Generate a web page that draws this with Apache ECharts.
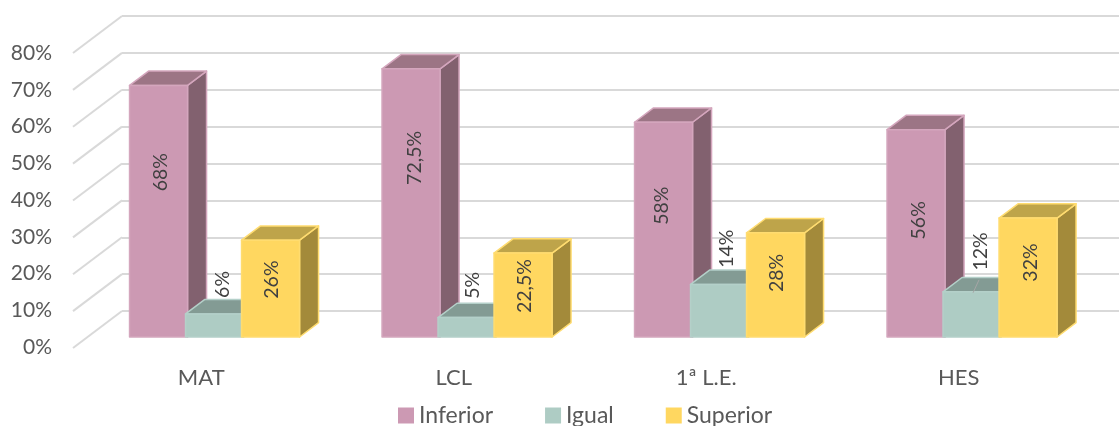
<!DOCTYPE html>
<html>
<head>
<meta charset="utf-8">
<style>html,body{margin:0;padding:0;background:#fff}#c{width:1119px;height:426px}</style>
<script src="https://cdn.jsdelivr.net/npm/echarts@6/dist/echarts.min.js"></script>
</head>
<body>
<div id="c"></div>
<script>
const categories = ['MAT', 'LCL', '1ª L.E.', 'HES'];
const inferior = [68, 72.5, 58, 56];
const igual = [6, 5, 14, 12];
const superior = [26, 22.5, 28, 32];
const yTicks = [0, 10, 20, 30, 40, 50, 60, 70, 80];

const FONT = 'Lato, "Noto Sans", sans-serif';
const labelNudge = {
  Inferior: { dx: [2, 4, -2, 3], lift: [39, 45, 24, 13] },
  Igual: { dx: [8, 6, 7, 9], lift: [41, 42, 62, 63] },
  Superior: { dx: [1.5, 1.5, 1, 3], lift: [9, 9, 12, 15] }
};
const looks = [
  { name: 'Inferior', values: inferior, slot: 0, front: '#CC99B3', top: '#9C7585', side: '#82616F', edge: '#D4A6BD' },
  { name: 'Igual', values: igual, slot: 1, front: '#AECCC4', top: '#839B94', side: '#6F8580', edge: '#B4D0C9' },
  { name: 'Superior', values: superior, slot: 2, front: '#FFD760', top: '#BEA44A', side: '#A38A3A', edge: '#FFDC70' }
];
const DX = 19, DY = 14.3, BAR_W = 58, STEP = 56, GROUP_LEFT = -85.4;

function barRenderer(look) {
  return function (params, api) {
    const i = api.value(0), v = api.value(1);
    const c0 = api.coord([i, 0]), c1 = api.coord([i, v]);
    const x0 = c0[0] + GROUP_LEFT + look.slot * STEP, x1 = x0 + BAR_W;
    const yT = c1[1], yB = c0[1] + 1;
    const stroke = { stroke: look.edge, lineWidth: 1.5, lineJoin: 'round' };
    const poly = (points, fill) => ({ type: 'polygon', shape: { points }, style: Object.assign({ fill }, stroke) });
    const nudge = labelNudge[look.name];
    const lx = (x0 + x1) / 2 + nudge.dx[i], ly = (yT + yB) / 2 - nudge.lift[i];
    const children = [
      poly([[x1, yT], [x1 + DX, yT - DY], [x1 + DX, yB - DY], [x1, yB]], look.side),
      poly([[x0, yT], [x0 + DX, yT - DY], [x1 + DX, yT - DY], [x1, yT]], look.top),
      poly([[x0, yT], [x1, yT], [x1, yB], [x0, yB]], look.front)
    ];
    if (look.name === 'Igual' && categories[i] === 'HES') {
      children.push({ type: 'line', shape: { x1: lx - 2, y1: yT - 12, x2: lx - 8, y2: yT + 1 }, style: { stroke: '#A6A6A6', lineWidth: 1 } });
    }
    children.push({
      type: 'text', x: lx, y: ly, rotation: Math.PI / 2,
      style: { text: String(v).replace('.', ',') + '%', fill: '#404040', font: '19.5px ' + FONT, align: 'center', verticalAlign: 'middle' }
    });
    return { type: 'group', children };
  };
}

const option = {
  animation: false,
  backgroundColor: '#fff',
  grid: [
    { left: 122, top: 16, width: 1010, height: 295 },
    { left: 75, top: 53, width: 1010, height: 294 },
    { left: 88.7, top: 41.2, width: 1010, height: 294.8 }
  ],
  xAxis: [
    { gridIndex: 0, type: 'category', data: categories, show: false },
    {
      gridIndex: 1, type: 'category', data: categories,
      axisLine: { show: false }, axisTick: { show: false },
      axisLabel: { color: '#595959', fontFamily: FONT, fontSize: 22, margin: 20 }
    },
    { gridIndex: 2, type: 'category', data: categories, show: false }
  ],
  yAxis: [
    {
      gridIndex: 0, type: 'value', min: 0, max: 80, interval: 10,
      axisLine: { show: false }, axisTick: { show: false }, axisLabel: { show: false },
      splitLine: { show: true, lineStyle: { color: '#D9D9D9', width: 2 } }
    },
    {
      gridIndex: 1, type: 'value', min: 0, max: 80, interval: 10,
      axisLine: { show: false }, axisTick: { show: false }, splitLine: { show: false },
      axisLabel: { color: '#595959', fontFamily: FONT, fontSize: 21, margin: 23, formatter: '{value}%', showMinLabel: true, showMaxLabel: true }
    },
    { gridIndex: 2, type: 'value', min: 0, max: 80, interval: 10, show: false }
  ],
  legend: {
    left: 393, top: 399, itemWidth: 16, itemHeight: 16, itemGap: 52, icon: 'rect',
    textStyle: { color: '#595959', fontFamily: FONT, fontSize: 23 },
    data: looks.map(l => l.name)
  },
  series: [
    {
      type: 'custom', name: 'pared', xAxisIndex: 0, yAxisIndex: 0, silent: true, z: 1,
      data: yTicks.map(t => [0, t]),
      encode: { x: 0, y: 1 },
      renderItem(params, api) {
        const y = api.coord([0, api.value(1)])[1];
        const x = params.coordSys.x;
        return { type: 'line', shape: { x1: x, y1: y, x2: x - 49, y2: y + 37 }, style: { stroke: '#D9D9D9', lineWidth: 2 } };
      }
    }
  ].concat(looks.map(l => ({
    type: 'custom', name: l.name, xAxisIndex: 2, yAxisIndex: 2, z: 2 + l.slot, silent: true,
    itemStyle: { color: l.front },
    data: l.values.map((v, i) => [i, v]),
    encode: { x: 0, y: 1 },
    renderItem: barRenderer(l),
    clip: false
  })))
};
echarts.init(document.getElementById('c'), null, { renderer: 'canvas' }).setOption(option);
</script>
</body>
</html>
